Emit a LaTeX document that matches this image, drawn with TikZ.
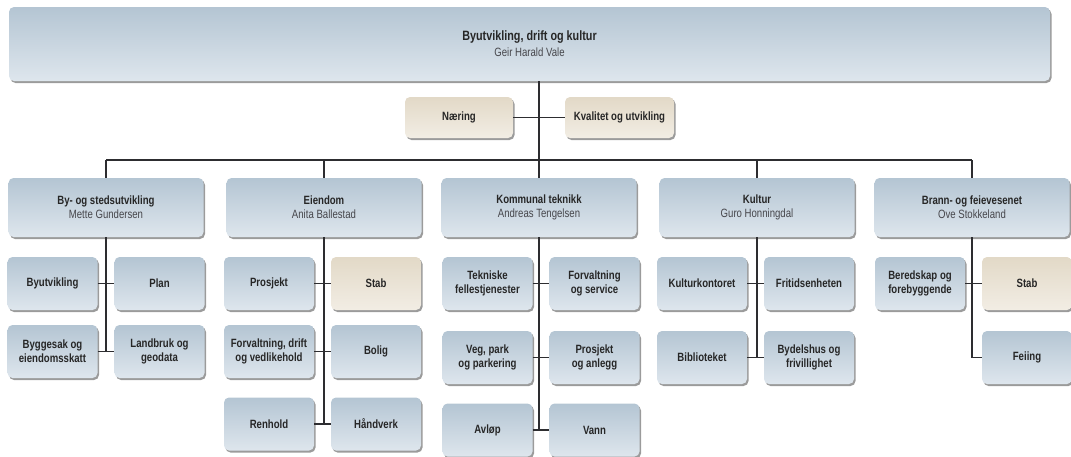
\documentclass[tikz,border=0pt]{standalone}
\usepackage{fontspec}
\setmainfont{Liberation Sans}[FakeStretch=0.8]
\usepackage{xcolor}
\usepackage{tikz}
\usetikzlibrary{shadows}
\usetikzlibrary{positioning}
\usetikzlibrary{calc}
\definecolor{boxtop}{RGB}{180,197,211}
\definecolor{boxbot}{RGB}{222,230,237}
\definecolor{stafftop}{RGB}{226,217,199}
\definecolor{staffbot}{RGB}{242,237,228}
\definecolor{linegray}{RGB}{45,45,48}
\definecolor{namegray}{RGB}{70,70,75}
\tikzstyle{unit}=[rectangle,rounded corners=5pt,top color=boxtop,bottom color=boxbot,draw=none,drop shadow={shadow xshift=1.5pt,shadow yshift=-2pt,fill=black!65,opacity=0.6},minimum width=90pt,minimum height=53pt,inner sep=2pt,align=center,text=black!85,font=\fontsize{12}{14}\selectfont\bfseries]
\tikzstyle{staff}=[unit,top color=stafftop,bottom color=staffbot]
\tikzstyle{dept}=[unit,minimum width=195pt,minimum height=59pt]
\tikzstyle{link}=[draw,linegray,line width=1.2pt]
\tikzstyle{mainlink}=[draw,linegray,line width=1.8pt]
\newcommand{\deptlabel}[2]{#1\\{\mdseries\color{namegray}#2}}

\begin{document}
\begin{tikzpicture}[x=1pt,y=-1pt]
 \useasboundingbox (0,0) rectangle (1071,456);

 %top
 \node[dept,minimum width=1041pt,minimum height=74pt,font=\fontsize{13.5}{16}\selectfont\bfseries] (top) at (529.5,44)
      {\deptlabel{Byutvikling, drift og kultur}{{\fontsize{12}{14}\selectfont Geir Harald Vale}}};

 \coordinate (hub) at (539,160);

 \node[staff,minimum width=108pt,minimum height=41pt] (naering) at (459,117.5) {N\ae ring};
 \node[staff,minimum width=109pt,minimum height=41pt] (kvalitet) at (619.5,117.5) {Kvalitet og utvikling};

 %departments
 \foreach \x/\name/\title/\boss in {106/by/By- og stedsutvikling/Mette Gundersen,
     324/eiendom/Eiendom/Anita Ballestad,
     539/kommunal/Kommunal teknikk/Andreas Tengelsen,
     757/kultur/Kultur/Guro Honningdal,
     972/brann/Brann- og feievesenet/Ove Stokkeland}
          \node[dept] (\name) at (\x,207.5) {\deptlabel{\title}{\boss}};

 %B0 by
  \def\dx{52.5};
  \def\u{107};
   \foreach \x/\y/\name/\label in {0/283.5/byutv/Byutvikling, 1/283.5/plan/Plan,
       0/351.5/byggesak/{Byggesak og\\eiendomsskatt}, 1/351.5/landbruk/{Landbruk og\\geodata}}
          \node[unit] (\name) at (\x*\u+\dx,\y) {\label};

 %B1 eiendom
  \def\dx{269};
   \foreach \x/\y/\name/\label in {0/283.5/prosjekt/Prosjekt,
       0/351.5/fdv/{Forvaltning, drift\\og vedlikehold}, 1/351.5/bolig/Bolig,
       0/424/renhold/Renhold, 1/424/handverk/H\aa ndverk}
          \node[unit] (\name) at (\x*\u+\dx,\y) {\label};
   \node[staff] (stab) at (\u+\dx,283.5) {Stab};

 %B2 kommunal
  \def\dx{487.5};
   \foreach \x/\y/\name/\label in {0/283.5/tekniske/{Tekniske\\fellestjenester}, 1/283.5/service/{Forvaltning\\og service},
       0/357.5/veg/{Veg, park\\og parkering}, 1/357.5/anlegg/{Prosjekt\\og anlegg},
       0/430/avlop/Avl\o p, 1/430/vann/Vann}
          \node[unit] (\name) at (\x*\u+\dx,\y) {\label};

 %B3 kultur
  \def\dx{702};
   \foreach \x/\y/\name/\label in {0/283.5/kontoret/Kulturkontoret, 1/283.5/fritid/Fritidsenheten,
       0/357.5/bibliotek/Biblioteket, 1/357.5/bydelshus/{Bydelshus og\\frivillighet}}
          \node[unit] (\name) at (\x*\u+\dx,\y) {\label};

 %B4 brann
  \def\dx{920};
   \foreach \x/\y/\name/\label in {0/283.5/beredskap/{Beredskap og\\forebyggende}, 1/357.5/feiing/Feiing}
          \node[unit] (\name) at (\x*\u+\dx,\y) {\label};
   \node[staff] (stabb) at (\u+\dx,283.5) {Stab};

 %lines
 \path[mainlink] (top.south -| hub) -- (hub);
 \path[mainlink] (by.north |- hub) -- (brann.north |- hub);
 \path[link] (naering.east) -- (kvalitet.west);
 \foreach \dest in {by,eiendom,kultur,brann}
         \path[link] (\dest.north |- hub) -- (\dest.north);
 \path[link] (hub) -- (kommunal.north);

 \path[link] (by.south) -- (by.south |- byggesak.east);
 \path[link] (eiendom.south) -- (eiendom.south |- renhold.east);
 \path[link] (kommunal.south) -- (kommunal.south |- avlop.east);
 \path[link] (kultur.south) -- (kultur.south |- bibliotek.east);
 \path[link] (brann.south) -- (brann.south |- feiing.west) -- (feiing.west);

 \foreach \source/\dest in {byutv/plan, byggesak/landbruk, prosjekt/stab, fdv/bolig, renhold/handverk,
     tekniske/service, veg/anlegg, avlop/vann, kontoret/fritid, bibliotek/bydelshus, beredskap/stabb}
         \path[link] (\source.east) -- (\dest.west);

\end{tikzpicture}
\end{document}
